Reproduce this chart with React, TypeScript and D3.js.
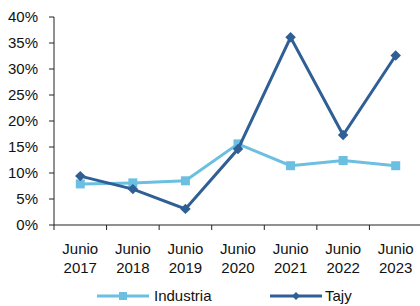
import * as d3 from "d3";
import { useEffect, useRef } from "react";

const years = ["2017", "2018", "2019", "2020", "2021", "2022", "2023"];
const industria = [7.9, 8.1, 8.5, 15.6, 11.4, 12.4, 11.4];
const tajy = [9.4, 6.9, 3.1, 14.6, 36.1, 17.3, 32.6];
const yTicks = [0, 5, 10, 15, 20, 25, 30, 35, 40];

const LIGHT = "#6BBFE0";
const DARK = "#2F5F95";

export default function App() {
  const svgRef = useRef<SVGSVGElement>(null);

  useEffect(() => {
    const svg = d3.select(svgRef.current);
    svg.selectAll("*").remove();

    const left = 54, right = 422, top = 17, bottom = 225;
    const font = "Liberation Sans, Arial, sans-serif";

    const x = d3.scaleBand().domain(years).range([left, right]);
    const y = d3.scaleLinear().domain([0, 40]).range([bottom, top]);

    // y axis
    svg.append("line").attr("x1", left).attr("x2", left).attr("y1", top).attr("y2", bottom)
      .attr("stroke", "#222").attr("stroke-width", 1);
    yTicks.forEach((t) => {
      svg.append("line").attr("x1", left - 5).attr("x2", left).attr("y1", y(t)).attr("y2", y(t))
        .attr("stroke", "#222");
      svg.append("text").attr("x", 38).attr("y", y(t)).attr("dy", "0.36em")
        .attr("text-anchor", "end").attr("font-family", font).attr("font-size", 15)
        .attr("fill", "#111").text(t + "%");
    });

    // x axis
    svg.append("line").attr("x1", left).attr("x2", right).attr("y1", bottom).attr("y2", bottom)
      .attr("stroke", "#222");
    years.forEach((yr) => {
      const x0 = x(yr)!;
      svg.append("line").attr("x1", x0).attr("x2", x0).attr("y1", bottom).attr("y2", bottom + 5)
        .attr("stroke", "#222");
      const cx = x0 + x.bandwidth() / 2;
      const t = svg.append("text").attr("text-anchor", "middle").attr("font-family", font)
        .attr("font-size", 15).attr("fill", "#111");
      t.append("tspan").attr("x", cx).attr("y", 254).text("Junio");
      t.append("tspan").attr("x", cx).attr("y", 273).text(yr);
    });

    const cx = (i: number) => x(years[i])! + x.bandwidth() / 2;
    const line = d3.line<number>().x((_, i) => cx(i)).y((d) => y(d));

    svg.append("path").attr("d", line(industria)).attr("fill", "none")
      .attr("stroke", LIGHT).attr("stroke-width", 3);
    svg.selectAll(".sq").data(industria).join("rect")
      .attr("x", (_, i) => cx(i) - 4.5).attr("y", (d) => y(d) - 4.5)
      .attr("width", 9).attr("height", 9).attr("fill", LIGHT);

    svg.append("path").attr("d", line(tajy)).attr("fill", "none")
      .attr("stroke", DARK).attr("stroke-width", 3);
    const diamond = d3.symbol().type(d3.symbolDiamond2).size(70);
    svg.selectAll(".dm").data(tajy).join("path")
      .attr("d", diamond)
      .attr("transform", (d, i) => `translate(${cx(i)},${y(d)})`)
      .attr("fill", DARK);

    // legend
    const ly = 296;
    svg.append("line").attr("x1", 97).attr("x2", 149).attr("y1", ly).attr("y2", ly)
      .attr("stroke", LIGHT).attr("stroke-width", 3);
    svg.append("rect").attr("x", 119).attr("y", ly - 4).attr("width", 8).attr("height", 8).attr("fill", LIGHT);
    svg.append("text").attr("x", 154).attr("y", ly).attr("dy", "0.36em").attr("font-family", font)
      .attr("font-size", 15).attr("fill", "#111").text("Industria");

    svg.append("line").attr("x1", 270).attr("x2", 322).attr("y1", ly).attr("y2", ly)
      .attr("stroke", DARK).attr("stroke-width", 3);
    svg.append("path").attr("d", d3.symbol().type(d3.symbolDiamond2).size(40))
      .attr("transform", `translate(296,${ly})`).attr("fill", DARK);
    svg.append("text").attr("x", 325).attr("y", ly).attr("dy", "0.36em").attr("font-family", font)
      .attr("font-size", 15).attr("fill", "#111").text("Tajy");
  }, []);

  return (
    <svg ref={svgRef} width={420} height={306}
      style={{ position: "absolute", left: 0, top: 0, background: "#fff" }} />
  );
}
